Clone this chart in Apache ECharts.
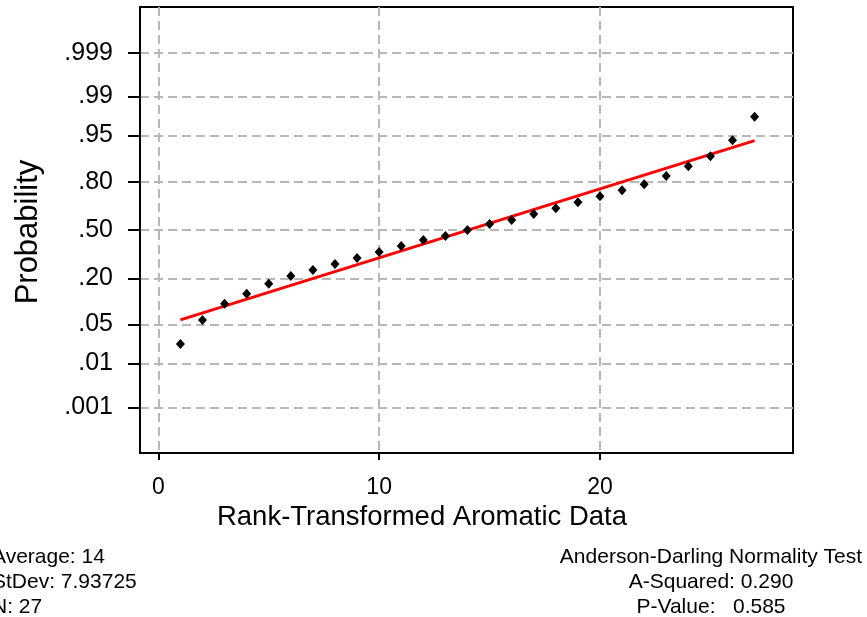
<!DOCTYPE html>
<html>
<head>
<meta charset="utf-8">
<script src="https://cdn.jsdelivr.net/npm/echarts@6/dist/echarts.min.js"></script>
<style>
html,body{margin:0;padding:0;background:#fff;}
#c{width:867px;height:617px;}
</style>
</head>
<body>
<div id="c"></div>
<script>
// Ranks (x) and plotted normal scores (probability on z-scale)
var ranks = [1,2,3,4,5,6,7,8,9,10,11,12,13,14,15,16,17,18,19,20,21,22,23,24,25,26,27];
var scores = [-1.986,-1.568,-1.284,-1.110,-0.936,-0.801,-0.697,-0.592,-0.488,-0.383,
              -0.279,-0.174,-0.105,0.000,0.105,0.174,0.279,0.378,0.482,0.587,
              0.691,0.796,0.941,1.110,1.284,1.563,1.974];
// Fitted line end points
var fitX = [1, 27];
var fitZ = [-1.565, 1.556];
// Y tick labels (probabilities) and their positions on the normal-score scale
var probLabels = ['.001','.01','.05','.20','.50','.80','.95','.99','.999'];
var probZ = [-3.090,-2.326,-1.645,-0.842,0,0.842,1.645,2.326,3.090];
// X tick labels
var xTicks = [0, 10, 20];
var xTitle = 'Rank-Transformed Aromatic Data';
var yTitle = 'Probability';
var leftStats = ['Average: 14', 'StDev: 7.93725', 'N: 27'];
var rightStats = ['Anderson-Darling Normality Test', 'A-Squared: 0.290', 'P-Value:   0.585'];

var FONT = 'Liberation Sans, Arial, sans-serif';
var chart = echarts.init(document.getElementById('c'), null, {renderer: 'canvas'});

function labelFor(v) {
  for (var i = 0; i < probZ.length; i++) {
    if (Math.abs(probZ[i] - v) < 1e-6) return probLabels[i];
  }
  return '';
}

var graphics = [];
leftStats.forEach(function (t, i) {
  graphics.push({type: 'text', x: -8, y: 557 + i * 25,
    style: {text: t, font: '21px ' + FONT, fill: '#000', textAlign: 'left', textVerticalAlign: 'middle'}});
});
rightStats.forEach(function (t, i) {
  graphics.push({type: 'text', x: 711, y: 557 + i * 25,
    style: {text: t, font: '21px ' + FONT, fill: '#000', textAlign: 'center', textVerticalAlign: 'middle'}});
});
graphics.push({type: 'text', x: 422, y: 517,
  style: {text: xTitle, font: '27.5px ' + FONT, fill: '#000', textAlign: 'center', textVerticalAlign: 'middle'}});
graphics.push({type: 'text', x: 28, y: 232, rotation: Math.PI / 2,
  style: {text: yTitle, font: '31px ' + FONT, fill: '#000', textAlign: 'center', textVerticalAlign: 'middle'}});

var gridLine = {show: true, lineStyle: {color: '#b8b8b8', width: 2, type: [9, 5]}};

var option = {
  backgroundColor: '#fff',
  animation: false,
  grid: {left: 140, right: 74, top: 7, bottom: 164, show: true, borderColor: '#000', borderWidth: 2, backgroundColor: 'transparent'},
  xAxis: {
    type: 'value', min: -0.83, max: 28.74,
    axisLine: {show: true, onZero: false, lineStyle: {color: '#000', width: 2}},
    axisTick: {show: true, length: 7, inside: false, customValues: xTicks, lineStyle: {color: '#000', width: 2}},
    axisLabel: {customValues: xTicks, fontFamily: FONT, fontSize: 23, color: '#000', margin: 23},
    splitLine: gridLine
  },
  yAxis: {
    type: 'value', min: -3.885, max: 3.885,
    axisLine: {show: true, onZero: false, lineStyle: {color: '#000', width: 2}},
    axisTick: {show: true, length: 12, customValues: probZ, lineStyle: {color: '#000', width: 2}},
    axisLabel: {customValues: probZ, formatter: labelFor, fontFamily: FONT, fontSize: 25, color: '#000', margin: 27},
    splitLine: gridLine
  },
  series: [
    {
      type: 'line', data: fitX.map(function (x, i) { return [x, fitZ[i]]; }),
      showSymbol: false, symbol: 'none', lineStyle: {color: '#ff0000', width: 3}, z: 2
    },
    {
      type: 'scatter', data: ranks.map(function (x, i) { return [x, scores[i]]; }),
      symbol: 'diamond', symbolSize: [9, 10], itemStyle: {color: '#000', opacity: 1}, z: 3
    }
  ],
  graphic: graphics
};
chart.setOption(option);
</script>
</body>
</html>
